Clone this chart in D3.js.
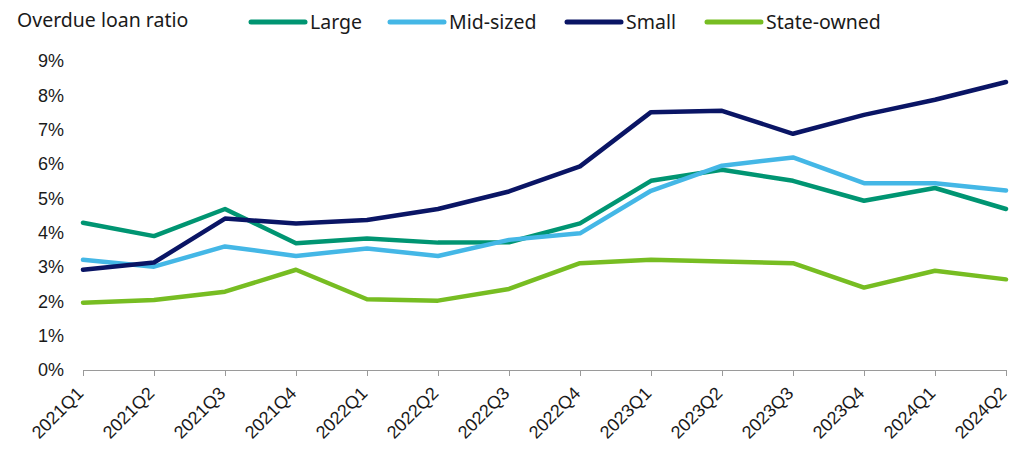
<!DOCTYPE html>
<html><head><meta charset="utf-8">
<script src="https://cdn.jsdelivr.net/npm/d3@7"></script>
<style>body{margin:0;background:#fff;} svg{display:block;}</style>
</head><body>
<script>
const categories = ["2021Q1","2021Q2","2021Q3","2021Q4","2022Q1","2022Q2","2022Q3","2022Q4","2023Q1","2023Q2","2023Q3","2023Q4","2024Q1","2024Q2"];
const large      = [4.29,3.90,4.69,3.69,3.83,3.71,3.72,4.27,5.51,5.83,5.51,4.93,5.30,4.69];
const midSized   = [3.21,3.01,3.60,3.32,3.54,3.32,3.79,3.98,5.22,5.95,6.19,5.44,5.44,5.23];
const small      = [2.92,3.13,4.41,4.27,4.37,4.69,5.20,5.93,7.51,7.55,6.88,7.43,7.87,8.39];
const stateOwned = [1.96,2.04,2.28,2.92,2.06,2.02,2.36,3.11,3.21,3.16,3.11,2.40,2.89,2.64];
const yTicks = [0,1,2,3,4,5,6,7,8,9];
const title = "Overdue loan ratio";

const series = [
  {name:"Large", values:large, color:"#009572"},
  {name:"Mid-sized", values:midSized, color:"#44B7E6"},
  {name:"Small", values:small, color:"#0A1565"},
  {name:"State-owned", values:stateOwned, color:"#77BD22"}
];

const W=1012, H=449;
const svg = d3.select("body").append("svg").attr("width",W).attr("height",H);
const x = d3.scalePoint().domain(categories).range([83,1006]);
const y = d3.scaleLinear().domain([0,9]).range([370,61]);

// y axis labels
svg.append("g").selectAll("text").data(yTicks).join("text")
  .attr("x",64).attr("y",d=>y(d)).attr("dy","0.35em")
  .attr("text-anchor","end")
  .style("font-family","'Liberation Sans',Arial,sans-serif").style("font-size","18px").style("fill","#1a1a1a")
  .text(d=>d+"%");

// x axis
const xa = svg.append("g").attr("transform","translate(0,370)")
  .call(d3.axisBottom(x).tickSize(6).tickSizeOuter(0).tickFormat(""));
xa.select(".domain").attr("stroke","#9a9a9a");
xa.selectAll(".tick line").attr("stroke","#9a9a9a");
svg.append("g").selectAll("text").data(categories).join("text")
  .attr("transform",d=>`translate(${x(d)-3},390) rotate(-45)`)
  .attr("text-anchor","end").attr("dy","0.35em")
  .style("font-family","'Liberation Sans',Arial,sans-serif").style("font-size","18px").style("fill","#1a1a1a")
  .text(d=>d);

// lines
const line = d3.line().x((d,i)=>x(categories[i])).y(d=>y(d));
svg.append("g").selectAll("path").data(series).join("path")
  .attr("d",d=>line(d.values)).attr("fill","none")
  .attr("stroke",d=>d.color).attr("stroke-width",4.5)
  .attr("stroke-linejoin","round").attr("stroke-linecap","round");

// title
svg.append("text").attr("x",17).attr("y",27)
  .style("font-family","'Noto Sans',sans-serif").style("font-size","19.5px").style("fill","#1a1a1a")
  .text(title);

// legend
const legX = [251,390,567,707];
const lg = svg.append("g").selectAll("g").data(series).join("g")
  .attr("transform",(d,i)=>`translate(${legX[i]},22)`);
lg.append("line").attr("x1",0).attr("x2",54).attr("y1",0).attr("y2",0)
  .attr("stroke",d=>d.color).attr("stroke-width",5).attr("stroke-linecap","round");
lg.append("text").attr("x",59).attr("y",0).attr("dy","0.35em")
  .style("font-family","'Noto Sans',sans-serif").style("font-size","19.5px").style("fill","#1a1a1a")
  .text(d=>d.name);
</script>
</body></html>
